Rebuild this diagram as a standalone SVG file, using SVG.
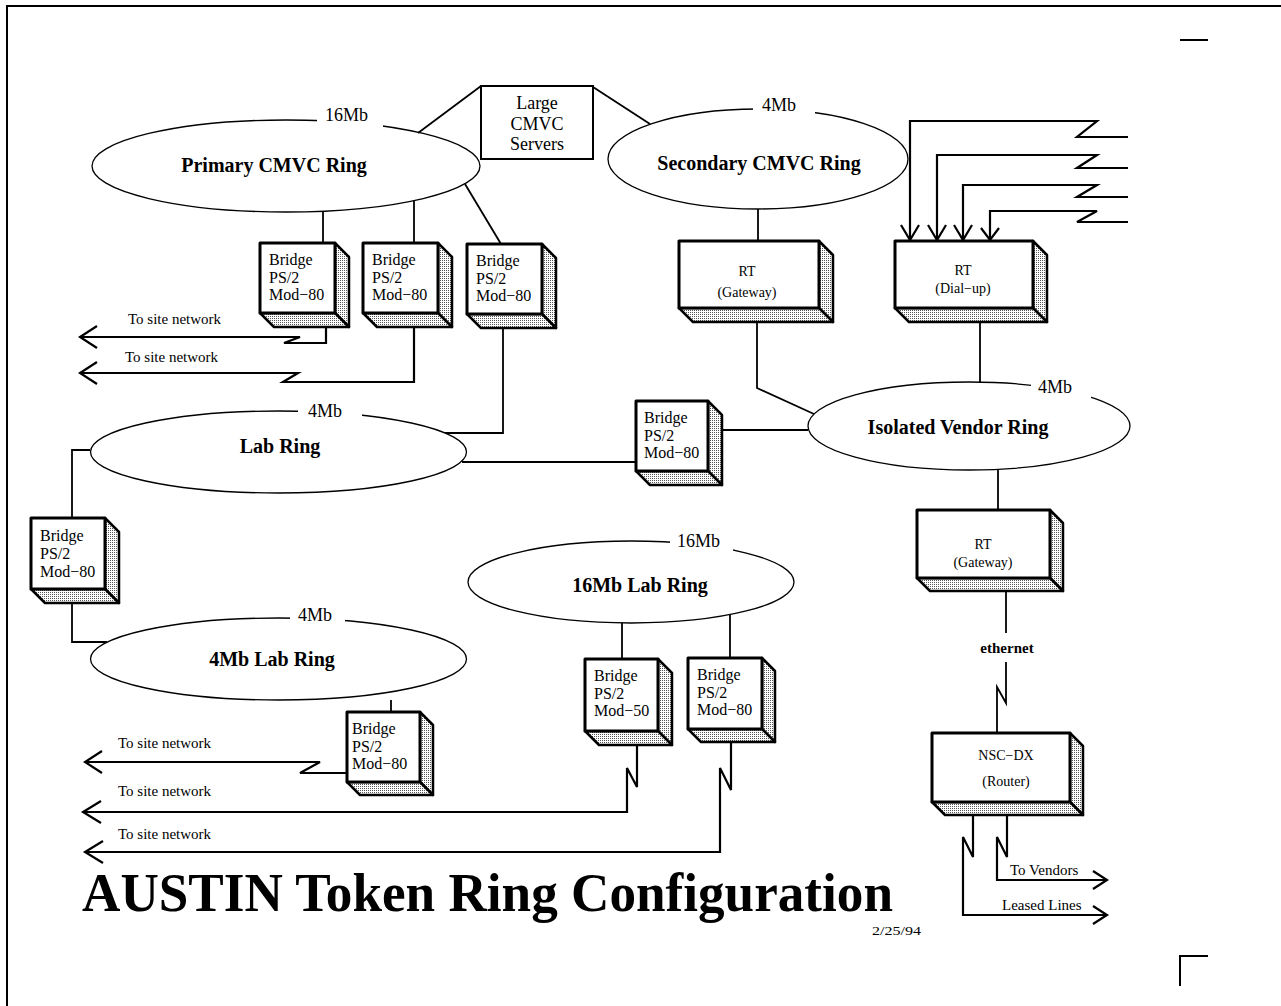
<svg xmlns="http://www.w3.org/2000/svg" width="1281" height="1006" viewBox="0 0 1281 1006">
<defs>
<pattern id="dots" width="2" height="2" patternUnits="userSpaceOnUse"><rect width="2" height="2" fill="#fff"/><rect width="1" height="1" fill="#555"/></pattern>
<style>
text{font-family:"Liberation Serif","Times New Roman",serif;fill:#000}
.ring{fill:none;stroke:#000;stroke-width:1.3}
.gap{fill:#fff;stroke:none}
.spd{font-size:18px}
.rname{font-size:20px;font-weight:bold;text-anchor:middle}
.front{fill:#fff;stroke:#000;stroke-width:3;stroke-linejoin:round}
.face{fill:url(#dots);stroke:#000;stroke-width:2.5;stroke-linejoin:round}
.bt{font-size:16px}
.rt{font-size:14px;text-anchor:middle}
.ln{fill:none;stroke:#000;stroke-width:1.8}
.sn{fill:none;stroke:#000;stroke-width:2.2}
.lbl{font-size:15px}
</style>
</defs>
<rect width="1281" height="1006" fill="#fff"/>
<path d="M7,1006 L7,6 L1281,6" fill="none" stroke="#000" stroke-width="2"/>
<path d="M1180,40 L1208,40 M1180,986 L1180,956 L1208,956" fill="none" stroke="#000" stroke-width="2"/>

<g id="connectors">
<path class="ln" d="M418,133 L481,86"/>
<path class="ln" d="M593,87 L650,124"/>
<path class="ln" d="M323,211 L323,243"/>
<path class="ln" d="M414,201 L414,243"/>
<path class="ln" d="M465,184 L501,244"/>
<path class="ln" d="M503,328 L503,433 L445,433"/>
<path class="ln" d="M462,462 L636,462"/>
<path class="ln" d="M722,430 L808,430"/>
<path class="ln" d="M90,450 L72,450 L72,518"/>
<path class="ln" d="M72,603 L72,642 L107,642"/>
<path class="ln" d="M391,700 L391,712"/>
<path class="ln" d="M622,623 L622,659"/>
<path class="ln" d="M730,615 L730,658"/>
<path class="ln" d="M758,209 L758,241"/>
<path class="ln" d="M757,322 L757,388 L814,414"/>
<path class="ln" d="M980,322 L980,382"/>
<path class="ln" d="M998,469 L998,510"/>
<!-- to site network -->
<path class="sn" d="M80,337 L300,337 L284,343 L326,343 L326,327"/>
<path class="sn" d="M97,326 L80,337 L97,348"/>
<path class="sn" d="M80,373 L298,373 L283,382 L414,382 L414,327"/>
<path class="sn" d="M97,362 L80,373 L97,384"/>
<path class="sn" d="M85,762 L320,762 L300,773 L347,773"/>
<path class="sn" d="M102,751 L85,762 L102,773"/>
<path class="sn" d="M83,812 L627,812 L627,768 L637,787 L637,745"/>
<path class="sn" d="M101,801 L83,812 L101,823"/>
<path class="sn" d="M85,852 L720,852 L720,768 L731,790 L731,742"/>
<path class="sn" d="M103,841 L85,852 L103,863"/>
<!-- dial-up lines -->
<path class="sn" d="M910,240 L910,121 L1097,121 L1077,137 L1128,137"/>
<path class="sn" d="M937,240 L937,155 L1097,155 L1077,168 L1128,168"/>
<path class="sn" d="M963,240 L963,185 L1097,185 L1077,197 L1128,197"/>
<path class="sn" d="M990,240 L990,211 L1097,211 L1077,222 L1128,222"/>
<path class="sn" d="M901,225 L910,240 L919,225 M928,225 L937,240 L946,225 M954,225 L963,240 L972,225 M981,228 L990,240 L999,228"/>
<!-- ethernet -->
<path class="ln" d="M1006,592 L1006,633"/>
<path class="ln" d="M1006,662 L1006,703 L997,687 L997,733"/>
<!-- router lines -->
<path class="sn" d="M1007,815 L1007,857 L997,837 L997,880 L1107,880"/>
<path class="sn" d="M1093,871 L1107,880 L1093,889"/>
<path class="sn" d="M973,815 L973,857 L963,837 L963,915 L1107,915"/>
<path class="sn" d="M1093,906 L1107,915 L1093,924"/>
</g>
<g id="connector-labels">
<text class="lbl" x="128" y="324">To site network</text>
<text class="lbl" x="125" y="362">To site network</text>
<text class="lbl" x="118" y="748">To site network</text>
<text class="lbl" x="118" y="796">To site network</text>
<text class="lbl" x="118" y="839">To site network</text>
<text x="1007" y="653" font-size="15" font-weight="bold" text-anchor="middle">ethernet</text>
<text class="lbl" x="1010" y="875">To Vendors</text>
<text class="lbl" x="1002" y="910">Leased Lines</text>
</g>

<g id="primary-ring">
<ellipse class="ring" cx="286" cy="166" rx="194" ry="46"/>
<rect class="gap" x="317" y="110" width="66" height="18"/>
<text class="spd" x="325" y="121">16Mb</text>
<text class="rname" x="274" y="172">Primary CMVC Ring</text>
</g>
<g id="secondary-ring">
<ellipse class="ring" cx="758" cy="159" rx="150" ry="50"/>
<rect class="gap" x="753" y="100" width="62" height="20"/>
<text class="spd" x="762" y="111">4Mb</text>
<text class="rname" x="759" y="170">Secondary CMVC Ring</text>
</g>
<g id="lab-ring">
<ellipse class="ring" cx="278.5" cy="452" rx="188" ry="41"/>
<rect class="gap" x="298" y="403" width="64" height="18"/>
<text class="spd" x="308" y="417">4Mb</text>
<text class="rname" x="280" y="453">Lab Ring</text>
</g>
<g id="lab4-ring">
<ellipse class="ring" cx="278.5" cy="659" rx="188" ry="41"/>
<rect class="gap" x="290" y="610" width="55" height="18"/>
<text class="spd" x="298" y="621">4Mb</text>
<text class="rname" x="272" y="666">4Mb Lab Ring</text>
</g>
<g id="lab16-ring">
<ellipse class="ring" cx="631" cy="582" rx="163" ry="41"/>
<rect class="gap" x="670" y="535" width="63" height="20"/>
<text class="spd" x="677" y="547">16Mb</text>
<text class="rname" x="640" y="592">16Mb Lab Ring</text>
</g>
<g id="vendor-ring">
<ellipse class="ring" cx="969" cy="426" rx="161" ry="44"/>
<rect class="gap" x="1031" y="378" width="60" height="22"/>
<text class="spd" x="1038" y="393">4Mb</text>
<text class="rname" x="958" y="434">Isolated Vendor Ring</text>
</g>

<g id="cmvc-servers">
<rect x="481" y="86" width="112" height="73" fill="#fff" stroke="#000" stroke-width="2"/>
<text x="537" y="109" font-size="18" text-anchor="middle">Large</text>
<text x="537" y="130" font-size="18" text-anchor="middle">CMVC</text>
<text x="537" y="150" font-size="18" text-anchor="middle">Servers</text>
</g>

<g id="bridge-1">
<polygon class="face" points="335,243 349,257 349,327 335,313"/>
<polygon class="face" points="260,313 335,313 349,327 274,327"/>
<rect class="front" x="260" y="243" width="75" height="70"/>
<text class="bt" x="269" y="265">Bridge</text><text class="bt" x="269" y="283">PS/2</text><text class="bt" x="269" y="300">Mod−80</text>
</g>
<g id="bridge-2">
<polygon class="face" points="438,243 452,257 452,327 438,313"/>
<polygon class="face" points="363,313 438,313 452,327 377,327"/>
<rect class="front" x="363" y="243" width="75" height="70"/>
<text class="bt" x="372" y="265">Bridge</text><text class="bt" x="372" y="283">PS/2</text><text class="bt" x="372" y="300">Mod−80</text>
</g>
<g id="bridge-3">
<polygon class="face" points="542,244 556,258 556,328 542,314"/>
<polygon class="face" points="467,314 542,314 556,328 481,328"/>
<rect class="front" x="467" y="244" width="75" height="70"/>
<text class="bt" x="476" y="266">Bridge</text><text class="bt" x="476" y="284">PS/2</text><text class="bt" x="476" y="301">Mod−80</text>
</g>
<g id="bridge-mid">
<polygon class="face" points="708,401 722,415 722,485 708,471"/>
<polygon class="face" points="636,471 708,471 722,485 650,485"/>
<rect class="front" x="636" y="401" width="72" height="70"/>
<text class="bt" x="644" y="423">Bridge</text><text class="bt" x="644" y="441">PS/2</text><text class="bt" x="644" y="458">Mod−80</text>
</g>
<g id="bridge-left">
<polygon class="face" points="105,518 119,532 119,603 105,589"/>
<polygon class="face" points="31,589 105,589 119,603 45,603"/>
<rect class="front" x="31" y="518" width="74" height="71"/>
<text class="bt" x="40" y="541">Bridge</text><text class="bt" x="40" y="559">PS/2</text><text class="bt" x="40" y="577">Mod−80</text>
</g>
<g id="bridge-4mb">
<polygon class="face" points="420,712 433,725 433,795 420,782"/>
<polygon class="face" points="347,782 420,782 433,795 360,795"/>
<rect class="front" x="347" y="712" width="73" height="70"/>
<text class="bt" x="352" y="734">Bridge</text><text class="bt" x="352" y="752">PS/2</text><text class="bt" x="352" y="769">Mod−80</text>
</g>
<g id="bridge-mod50">
<polygon class="face" points="658,659 672,673 672,745 658,731"/>
<polygon class="face" points="585,731 658,731 672,745 599,745"/>
<rect class="front" x="585" y="659" width="73" height="72"/>
<text class="bt" x="594" y="681">Bridge</text><text class="bt" x="594" y="699">PS/2</text><text class="bt" x="594" y="716">Mod−50</text>
</g>
<g id="bridge-mod80b">
<polygon class="face" points="762,658 775,671 775,742 762,729"/>
<polygon class="face" points="688,729 762,729 775,742 701,742"/>
<rect class="front" x="688" y="658" width="74" height="71"/>
<text class="bt" x="697" y="680">Bridge</text><text class="bt" x="697" y="698">PS/2</text><text class="bt" x="697" y="715">Mod−80</text>
</g>
<g id="rt-gateway-1">
<polygon class="face" points="819,241 833,255 833,322 819,308"/>
<polygon class="face" points="679,308 819,308 833,322 693,322"/>
<rect class="front" x="679" y="241" width="140" height="67"/>
<text class="rt" x="747" y="276">RT</text><text class="rt" x="747" y="297">(Gateway)</text>
</g>
<g id="rt-dialup">
<polygon class="face" points="1033,241 1047,255 1047,322 1033,308"/>
<polygon class="face" points="895,308 1033,308 1047,322 909,322"/>
<rect class="front" x="895" y="241" width="138" height="67"/>
<text class="rt" x="963" y="275">RT</text><text class="rt" x="963" y="293">(Dial−up)</text>
</g>
<g id="rt-gateway-2">
<polygon class="face" points="1050,510 1063,523 1063,591 1050,578"/>
<polygon class="face" points="917,578 1050,578 1063,591 930,591"/>
<rect class="front" x="917" y="510" width="133" height="68"/>
<text class="rt" x="983" y="549">RT</text><text class="rt" x="983" y="567">(Gateway)</text>
</g>
<g id="nsc-router">
<polygon class="face" points="1070,733 1083,746 1083,815 1070,802"/>
<polygon class="face" points="932,802 1070,802 1083,815 945,815"/>
<rect class="front" x="932" y="733" width="138" height="69"/>
<text class="rt" x="1006" y="760">NSC−DX</text><text class="rt" x="1006" y="786">(Router)</text>
</g>

<g id="title">
<text x="82" y="911" font-size="54" font-weight="bold" textLength="811" lengthAdjust="spacingAndGlyphs">AUSTIN Token Ring Configuration</text>
<text x="872" y="935" font-size="12" textLength="49" lengthAdjust="spacingAndGlyphs">2/25/94</text>
</g>
</svg>
